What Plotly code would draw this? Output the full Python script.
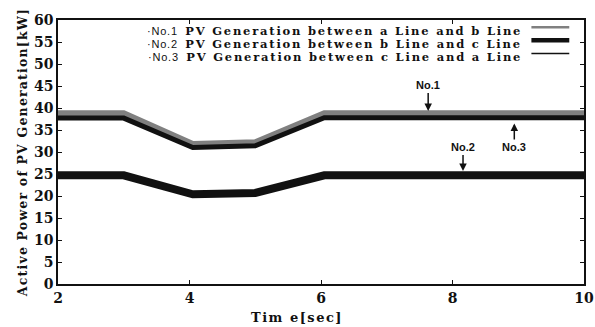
import plotly.graph_objects as go

time_s = [2, 3, 4.05, 5.0, 6.05, 10]
no1 = [38.8, 38.8, 31.8, 32.2, 38.8, 38.8]
no2 = [24.7, 24.7, 20.4, 20.7, 24.7, 24.7]
no3 = [37.7, 37.7, 31.0, 31.4, 37.8, 37.8]

legend_labels = [
    "PV Generation between a Line and b Line",
    "PV Generation between b Line and c Line",
    "PV Generation between c Line and a Line",
]
legend_ids = ["·No.1", "·No.2", "·No.3"]
x_ticks = [2, 4, 6, 8, 10]
y_ticks = list(range(0, 61, 5))

SERIF = "DejaVu Serif"
SANS = "Liberation Sans, Arial"

fig = go.Figure()
fig.add_trace(go.Scatter(x=time_s, y=no2, mode="lines", line=dict(color="#111111", width=8), name="No.2"))
fig.add_trace(go.Scatter(x=time_s, y=no1, mode="lines", line=dict(color="#808080", width=6), name="No.1"))
fig.add_trace(go.Scatter(x=time_s, y=no3, mode="lines", line=dict(color="#111111", width=5), name="No.3"))

# legend drawn manually (text on left, sample on right)
styles = [dict(color="#808080", width=2.5), dict(color="#111111", width=4.5), dict(color="#111111", width=1.5)]
rows_y = [0.958, 0.908, 0.858]
for i in range(3):
    fig.add_annotation(
        xref="paper", yref="paper", x=0.885, y=rows_y[i], xanchor="right", yanchor="middle",
        text=(f"<span style='font-family:{SANS};font-size:11px;letter-spacing:0.8px'>{legend_ids[i]}</span>  "
              f"<span style='letter-spacing:1.8px'><b>{legend_labels[i]}</b></span>"),
        showarrow=False, font=dict(family=SERIF, size=11.5, color="#111111"),
    )
    fig.add_shape(type="line", xref="paper", yref="paper", x0=0.9, x1=0.972,
                  y0=rows_y[i] + 0.015, y1=rows_y[i] + 0.015, line=styles[i])

# arrows labelled No.1 / No.2 / No.3
lab_font = dict(family=SANS, size=11, color="#111111")
fig.add_annotation(x=7.63, y=no1[-1] + 0.5, ax=0, ay=-18, text="<b>No.1</b>", showarrow=True,
                   arrowhead=2, arrowsize=1, arrowwidth=1.5, arrowcolor="#111111", font=lab_font, yanchor="bottom")
fig.add_annotation(x=8.94, y=no3[-1] - 1.3, ax=0, ay=16, text="<b>No.3</b>", showarrow=True,
                   arrowhead=2, arrowsize=1, arrowwidth=1.5, arrowcolor="#111111", font=lab_font, yanchor="top")
fig.add_annotation(x=8.16, y=no2[-1] + 1, ax=0, ay=-16, text="<b>No.2</b>", showarrow=True,
                   arrowhead=2, arrowsize=1, arrowwidth=1.5, arrowcolor="#111111", font=lab_font, yanchor="bottom")

# x axis title (centred slightly left of the plot centre, as in the reference)
fig.add_annotation(xref="paper", yref="paper", x=0.454, y=-0.128, xanchor="center", yanchor="middle",
                   text="<span style='letter-spacing:1.5px'><b>Tim e[sec]</b></span>", showarrow=False,
                   font=dict(family=SERIF, size=13, color="#111111"))

axis_common = dict(showgrid=False, zeroline=False, showline=True, linecolor="#111111", linewidth=1.5,
                   mirror="ticks", ticks="inside", ticklen=4, tickcolor="#111111", automargin=False,
                   tickfont=dict(family=SERIF, size=14, color="#111111"))
fig.update_xaxes(range=[2, 10], tickvals=x_ticks, ticktext=[f"<b>{v}</b>" for v in x_ticks], **axis_common)
fig.update_yaxes(range=[0, 60], tickvals=y_ticks, ticktext=[f"<b>{v}</b>" for v in y_ticks],
                 title=dict(text="<span style='letter-spacing:1.2px'><b>Active Power of PV Generation[kW]</b></span>",
                            font=dict(family=SERIF, size=12.5, color="#111111"), standoff=4),
                 **axis_common)

fig.update_layout(
    width=595, height=327, margin=dict(l=58, r=11, t=20, b=43),
    paper_bgcolor="white", plot_bgcolor="white", showlegend=False,
)
fig.write_html("out.html")
